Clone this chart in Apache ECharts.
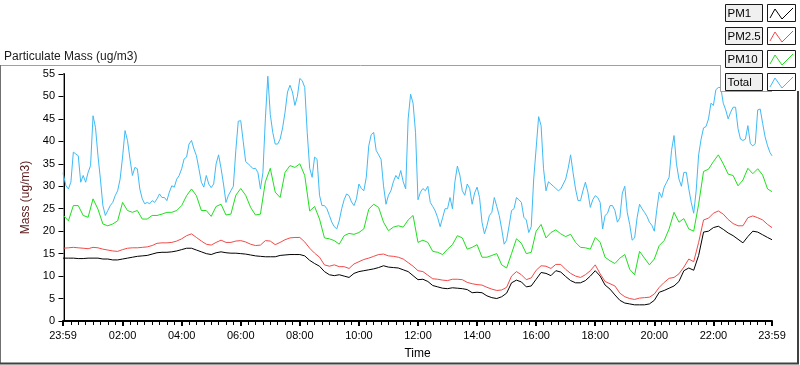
<!DOCTYPE html>
<html><head><meta charset="utf-8">
<script src="https://cdn.jsdelivr.net/npm/echarts@6/dist/echarts.min.js"></script>
<style>html,body{margin:0;padding:0;background:#fff}#c{width:800px;height:365px}</style>
</head><body><div id="c"></div>
<script>
const FONT = '"Liberation Sans", Arial, sans-serif';
const seriesNames = ['PM1', 'PM2.5', 'PM10', 'Total'];
const seriesColors = ['#000000', '#f24a4a', '#1ee01e', '#3fbaf5'];

// x axis in minutes after midnight; 23:59 of the previous day is -1
const xMin = -1, xMax = 1439;
const xTickValues = [-1, 120, 240, 360, 480, 600, 720, 840, 960, 1080, 1200, 1320, 1439];
const xTickLabels = ['23:59', '02:00', '04:00', '06:00', '08:00', '10:00', '12:00', '14:00', '16:00', '18:00', '20:00', '22:00', '23:59'];
const xMinorTickValues = [];
for (let m = 15; m < 1439; m += 15) { if (m % 120 !== 0) xMinorTickValues.push(m); }

// sample times: 10-minute samples for PM1, PM2.5, PM10; 5-minute samples for Total
const timesCoarse = [-1];
for (let m = 10; m <= 1430; m += 10) timesCoarse.push(m);
timesCoarse.push(1439);
const timesFine = [-1];
for (let m = 5; m <= 1435; m += 5) timesFine.push(m);
timesFine.push(1439);

const pm1 = [
 14.0,14.0,14.0,13.9,13.9,14.0,14.0,14.0,13.8,13.8,
 13.6,13.6,13.8,14.0,14.2,14.4,14.5,14.6,14.9,15.2,
 15.3,15.3,15.4,15.6,15.9,16.2,16.2,15.8,15.4,15.0,
 14.8,15.2,15.4,15.2,15.1,15.1,15.0,14.9,14.7,14.5,
 14.4,14.3,14.3,14.3,14.6,14.7,14.8,14.8,14.8,14.5,
 13.5,12.8,12.2,11.0,10.3,10.1,10.3,10.0,9.7,10.6,
 11.0,11.2,11.4,11.6,11.9,12.3,12.0,11.9,11.8,11.4,
 11.0,10.1,9.2,9.3,8.8,7.9,7.6,7.3,7.2,7.4,
 7.3,7.2,7.0,6.3,6.4,6.3,5.6,5.2,5.0,5.4,
 6.2,8.5,9.1,8.7,7.6,7.8,9.3,10.8,10.6,10.1,
 11.2,10.9,9.9,9.0,8.5,8.5,9.0,10.0,11.2,10.0,
 8.0,7.1,5.8,4.6,4.0,3.8,3.6,3.6,3.6,3.8,
 4.6,6.4,6.8,7.3,7.8,8.8,11.2,11.8,11.3,14.6,
 19.8,20.0,20.8,21.1,20.4,19.6,19.0,18.2,17.4,18.8,
 20.0,19.8,19.2,18.6,18.1
];
const pm25 = [
 16.2,16.3,16.4,16.3,16.2,16.1,16.4,16.3,16.0,15.8,
 15.6,15.5,15.9,16.2,16.3,16.3,16.4,16.5,16.8,17.3,
 17.4,17.4,17.5,17.8,18.3,19.0,19.4,18.6,17.8,17.1,
 16.9,17.5,18.0,17.5,17.5,17.8,17.9,17.6,17.1,16.8,
 16.9,17.9,17.8,17.0,17.5,18.1,18.5,18.6,18.6,17.6,
 16.2,15.1,14.2,12.5,12.2,12.5,12.1,12.1,11.7,12.7,
 13.2,13.7,14.0,14.4,14.8,14.9,14.5,14.4,14.2,13.8,
 13.0,12.2,11.2,11.0,10.2,9.4,9.3,9.1,9.0,9.3,
 9.3,9.2,8.6,8.3,8.1,8.0,7.5,7.1,6.8,6.9,
 7.5,10.0,11.0,10.3,9.2,9.6,11.3,12.3,12.2,11.7,
 12.6,12.6,11.5,10.6,10.0,9.7,10.3,11.2,12.5,10.5,
 8.8,8.3,7.8,6.2,5.4,5.0,4.8,5.1,5.2,5.3,
 6.0,7.5,8.6,9.5,9.7,10.5,12.0,13.8,13.2,17.5,
 22.5,22.9,24.0,24.5,23.8,22.6,21.7,21.2,21.2,23.0,
 23.4,23.0,22.5,21.5,20.8
];
const pm10 = [
 23.6,22.3,25.7,25.7,23.5,23.1,27.2,24.9,21.6,21.2,
 21.6,22.3,26.4,24.6,24.2,24.6,22.7,22.7,23.5,23.5,
 23.8,24.2,24.2,24.6,25.7,27.9,29.4,27.9,24.6,24.6,
 23.3,25.5,26.0,23.6,23.8,28.0,29.5,28.0,25.3,23.6,
 23.8,31.0,34.0,28.7,27.5,33.1,34.6,34.2,35.0,32.4,
 24.5,25.5,22.7,18.5,18.3,17.9,17.1,19.0,19.5,19.3,
 19.7,20.5,24.9,26.0,25.3,22.0,20.1,20.9,21.2,20.9,
 22.5,23.5,17.5,18.0,17.5,15.5,15.3,14.8,16.0,17.0,
 19.0,18.5,16.0,16.4,17.0,14.2,14.2,14.6,15.0,12.5,
 11.8,15.0,18.3,17.3,15.0,15.3,20.0,21.5,18.5,19.7,
 20.3,19.4,18.8,19.3,17.5,16.4,16.3,16.0,18.6,17.5,
 14.2,13.4,12.8,14.0,14.8,11.5,10.3,15.5,14.0,12.5,
 13.8,16.8,17.9,20.5,24.2,22.0,22.8,20.5,20.0,26.0,
 33.3,33.8,35.5,37.0,35.0,32.7,32.4,30.1,31.4,34.0,
 32.8,33.9,32.5,29.4,28.8
];
const total = [
 33.0,30.1,29.4,30.9,37.6,37.2,36.8,30.9,32.4,30.9,
 33.1,34.6,45.7,43.1,36.8,31.6,25.7,23.5,24.6,25.7,
 26.4,27.9,29.0,31.6,36.5,42.4,40.2,36.1,32.4,34.2,
 33.9,29.4,27.2,26.1,26.4,26.1,26.8,26.4,27.2,28.3,
 27.5,27.5,26.8,28.7,30.1,29.8,31.6,32.4,33.9,36.1,
 36.5,39.4,40.2,38.3,36.8,33.9,30.9,29.8,32.4,30.5,
 29.7,30.5,35.0,37.0,34.0,30.5,26.4,28.0,29.0,30.0,
 38.0,44.5,44.6,40.0,35.5,35.0,34.5,33.9,34.0,33.0,
 29.4,33.0,45.0,54.5,46.0,42.0,39.4,39.4,40.5,43.0,
 46.5,51.0,52.5,51.0,48.0,50.0,54.0,53.5,52.0,42.0,
 34.0,32.0,36.5,36.0,28.0,25.7,25.7,25.0,23.5,22.0,
 21.0,20.5,22.3,25.0,27.0,28.3,27.9,26.5,25.7,27.2,
 30.5,29.5,29.0,32.0,39.0,41.5,42.0,38.0,37.0,36.0,
 30.1,26.0,28.0,29.0,31.0,32.4,31.6,33.5,31.0,29.4,
 45.0,50.5,48.5,42.0,27.0,28.7,29.5,29.0,30.0,26.4,
 25.5,24.5,23.0,21.0,23.0,25.0,25.0,27.5,25.0,31.0,
 34.5,32.5,29.0,28.0,30.5,29.5,26.0,28.5,29.8,27.5,
 22.0,19.4,21.2,23.5,24.2,27.5,25.5,23.5,20.5,17.1,
 18.0,21.2,24.6,25.0,27.5,27.0,26.4,23.1,22.5,19.7,
 21.0,31.6,38.5,45.5,43.5,33.9,29.0,31.0,30.5,30.0,
 29.5,29.0,29.4,30.5,31.6,34.0,37.0,33.0,29.4,26.8,
 26.8,29.0,30.9,28.7,25.3,27.0,27.9,27.5,26.4,20.5,
 23.5,24.0,25.7,25.7,24.6,22.0,23.0,28.5,30.0,24.2,
 21.5,18.0,18.5,23.0,26.0,25.0,24.2,23.3,22.0,21.3,
 20.0,24.8,28.7,27.5,29.8,30.9,32.0,38.0,41.3,35.0,
 31.6,30.0,33.1,33.1,29.4,26.4,24.0,29.0,37.0,40.5,
 43.0,43.3,45.0,48.5,48.0,51.5,52.0,52.0,48.5,47.0,
 45.0,46.5,47.6,47.6,42.8,40.5,40.2,40.5,43.5,39.5,
 39.0,39.5,47.0,47.2,44.0,41.0,39.0,37.5,
 36.8
];

const seriesData = [
  pm1.map((v, i) => [timesCoarse[i], v]),
  pm25.map((v, i) => [timesCoarse[i], v]),
  pm10.map((v, i) => [timesCoarse[i], v]),
  total.map((v, i) => [timesFine[i], v])
];

const chart = echarts.init(document.getElementById('c'), null, {renderer: 'canvas'});

// legend boxes (LabVIEW-style plot legend)
const legendGraphics = [];
legendGraphics.push({type: 'rect', z: 100, shape: {x: 721, y: 0, width: 79, height: 91}, style: {fill: '#ffffff'}});
legendGraphics.push({type: 'line', z: 101, shape: {x1: 720.5, y1: 65, x2: 720.5, y2: 91.5}, style: {stroke: '#a0a0a0', lineWidth: 1}});
legendGraphics.push({type: 'line', z: 101, shape: {x1: 720.5, y1: 91.5, x2: 772, y2: 91.5}, style: {stroke: '#a0a0a0', lineWidth: 1}});
seriesNames.forEach((name, i) => {
  const y0 = 4 + i * 23;
  legendGraphics.push({type: 'rect', z: 102, shape: {x: 725.5, y: y0 + 0.5, width: 37, height: 17}, style: {fill: '#f0f0f0', stroke: '#1a1a1a', lineWidth: 1}});
  legendGraphics.push({type: 'text', z: 103, x: 727.5, y: y0 + 9.5, style: {text: name, fill: '#000', font: '11.5px ' + FONT, textVerticalAlign: 'middle', textAlign: 'left'}});
  legendGraphics.push({type: 'rect', z: 102, shape: {x: 767.5, y: y0 + 0.5, width: 28, height: 17}, style: {fill: '#ffffff', stroke: '#1a1a1a', lineWidth: 1}});
  legendGraphics.push({type: 'polyline', z: 103, shape: {points: [[770, y0 + 14], [775, y0 + 5], [782, y0 + 15], [793, y0 + 4]]}, style: {stroke: seriesColors[i], lineWidth: 1, fill: null}});
});

const option = {
  animation: false,
  backgroundColor: '#ffffff',
  textStyle: {fontFamily: FONT},
  title: {
    text: 'Particulate Mass (ug/m3)', left: 4, top: 51, padding: 0,
    textStyle: {fontSize: 12, fontWeight: 'normal', color: '#1a1a1a', fontFamily: FONT}
  },
  grid: [
    {left: 63, right: 28, top: 74, bottom: 43},
    {left: 63, right: 28, top: 74, bottom: 43}
  ],
  xAxis: [
    {
      type: 'value', gridIndex: 0, position: 'bottom', min: xMin, max: xMax,
      axisLine: {show: true, lineStyle: {color: '#9a9a9a', width: 1}},
      axisTick: {show: true, customValues: xTickValues, length: 5, lineStyle: {color: '#000', width: 2}},
      axisLabel: {
        show: true, customValues: xTickValues, margin: 9, fontSize: 11, color: '#000', fontFamily: FONT,
        formatter: (v) => { const k = xTickValues.indexOf(v); return k >= 0 ? xTickLabels[k] : ''; }
      },
      splitLine: {show: false},
      name: 'Time', nameLocation: 'middle', nameGap: 27,
      nameTextStyle: {fontSize: 12, color: '#000', fontFamily: FONT}
    },
    {
      type: 'value', gridIndex: 0, position: 'top', min: xMin, max: xMax, z: 5,
      axisLine: {show: true, lineStyle: {color: '#000', width: 2}},
      axisTick: {show: false}, axisLabel: {show: false}, splitLine: {show: false}
    },
    {
      type: 'value', gridIndex: 1, position: 'bottom', min: xMin, max: xMax,
      axisLine: {show: false},
      axisTick: {show: true, customValues: xMinorTickValues, length: 3, lineStyle: {color: '#000', width: 1}},
      axisLabel: {show: false}, splitLine: {show: false}
    }
  ],
  yAxis: [
    {
      type: 'value', gridIndex: 0, position: 'left', min: 0, max: 55, interval: 5,
      axisLine: {show: true, lineStyle: {color: '#000', width: 2}},
      axisTick: {show: true, length: 5, lineStyle: {color: '#000', width: 1}},
      axisLabel: {margin: 8, fontSize: 11, color: '#000', fontFamily: FONT},
      splitLine: {show: false},
      name: 'Mass (ug/m3)', nameLocation: 'middle', nameGap: 17, nameRotate: 90,
      nameTextStyle: {fontSize: 12, color: '#5a1a1a', fontFamily: FONT}
    },
    {
      type: 'value', gridIndex: 0, position: 'right', min: 0, max: 55,
      axisLine: {show: true, lineStyle: {color: '#9a9a9a', width: 1}},
      axisTick: {show: false}, axisLabel: {show: false}, splitLine: {show: false}
    },
    {type: 'value', gridIndex: 1, show: false, min: 0, max: 1}
  ],
  series: [3, 2, 1, 0].map(i => ({
    name: seriesNames[i], type: 'line', xAxisIndex: 0, yAxisIndex: 0,
    data: seriesData[i], showSymbol: false, symbol: 'none',
    lineStyle: {color: seriesColors[i], width: 1}, itemStyle: {color: seriesColors[i]},
    emphasis: {disabled: true}
  })),
  graphic: [
    {type: 'line', z: 90, shape: {x1: 0, y1: 65.5, x2: 721, y2: 65.5}, style: {stroke: '#a0a0a0', lineWidth: 1}},
    {type: 'line', z: 90, shape: {x1: 0.5, y1: 65, x2: 0.5, y2: 364}, style: {stroke: '#707070', lineWidth: 1}},
    {type: 'line', z: 90, shape: {x1: 0, y1: 363.5, x2: 799, y2: 363.5}, style: {stroke: '#404040', lineWidth: 2}},
    {type: 'line', z: 90, shape: {x1: 798, y1: 91, x2: 798, y2: 364}, style: {stroke: '#404040', lineWidth: 2}}
  ].concat(legendGraphics)
};
chart.setOption(option);
</script>
</body></html>
